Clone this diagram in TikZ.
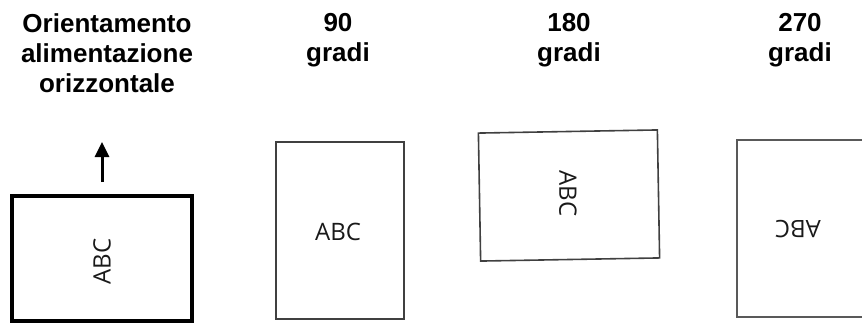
\documentclass[tikz,border=0pt]{standalone}
\usepackage{fontspec}
\setmainfont{Liberation Sans}
\newfontfamily\abcfont{Open Sans}
\usetikzlibrary{arrows.meta}
\begin{document}
\begin{tikzpicture}[x=1pt,y=-1pt,
  title/.style={font=\bfseries\fontsize{26}{30}\selectfont, align=center, anchor=north, inner sep=0pt},
  page/.style={draw, line width=1.6pt, draw=black!75, minimum width=#1, inner sep=0pt},
  abc/.style={font=\abcfont\fontsize{24}{26}\selectfont, text=black!90, inner sep=0pt}]
\useasboundingbox (0,0) rectangle (862,322);
\clip (0,0) rectangle (862,322);
% titles
\node[title] (t1) at (107,13) {Orientamento\\alimentazione\\orizzontale};
\node[title] (t2) at (338,13.5) {90\\gradi};
\node[title] (t3) at (569,13.5) {180\\gradi};
\node[title] (t4) at (800,13.5) {270\\gradi};
% box 1
\node[draw=black, line width=3.2pt, minimum width=180pt, minimum height=125pt, inner sep=0pt] (b1) at (102,258.5) {};
\node[abc, rotate=90] (x1) at (102,261.5) {ABC};
\coordinate (a0) at (102,182);
\coordinate (a1) at (102,142);
\draw[line width=3pt, -{Triangle[length=15pt,width=14pt]}] (a0) -- (a1);
% box 2
\node[page=128pt, minimum height=177pt] (b2) at (340,230.5) {};
\node[abc] (x2) at (338,232) {ABC};
% box 3
\node[page=179pt, minimum height=128pt, rotate=1] (b3) at (569,195.5) {};
\node[abc, rotate=-90] (x3) at (568,193.5) {ABC};
% box 4
\node[page=143pt, minimum height=177pt, draw=black!65, line width=2pt] (b4) at (808.5,228.5) {};
\node[abc, rotate=180] (x4) at (798,229) {ABC};
\end{tikzpicture}
\end{document}
